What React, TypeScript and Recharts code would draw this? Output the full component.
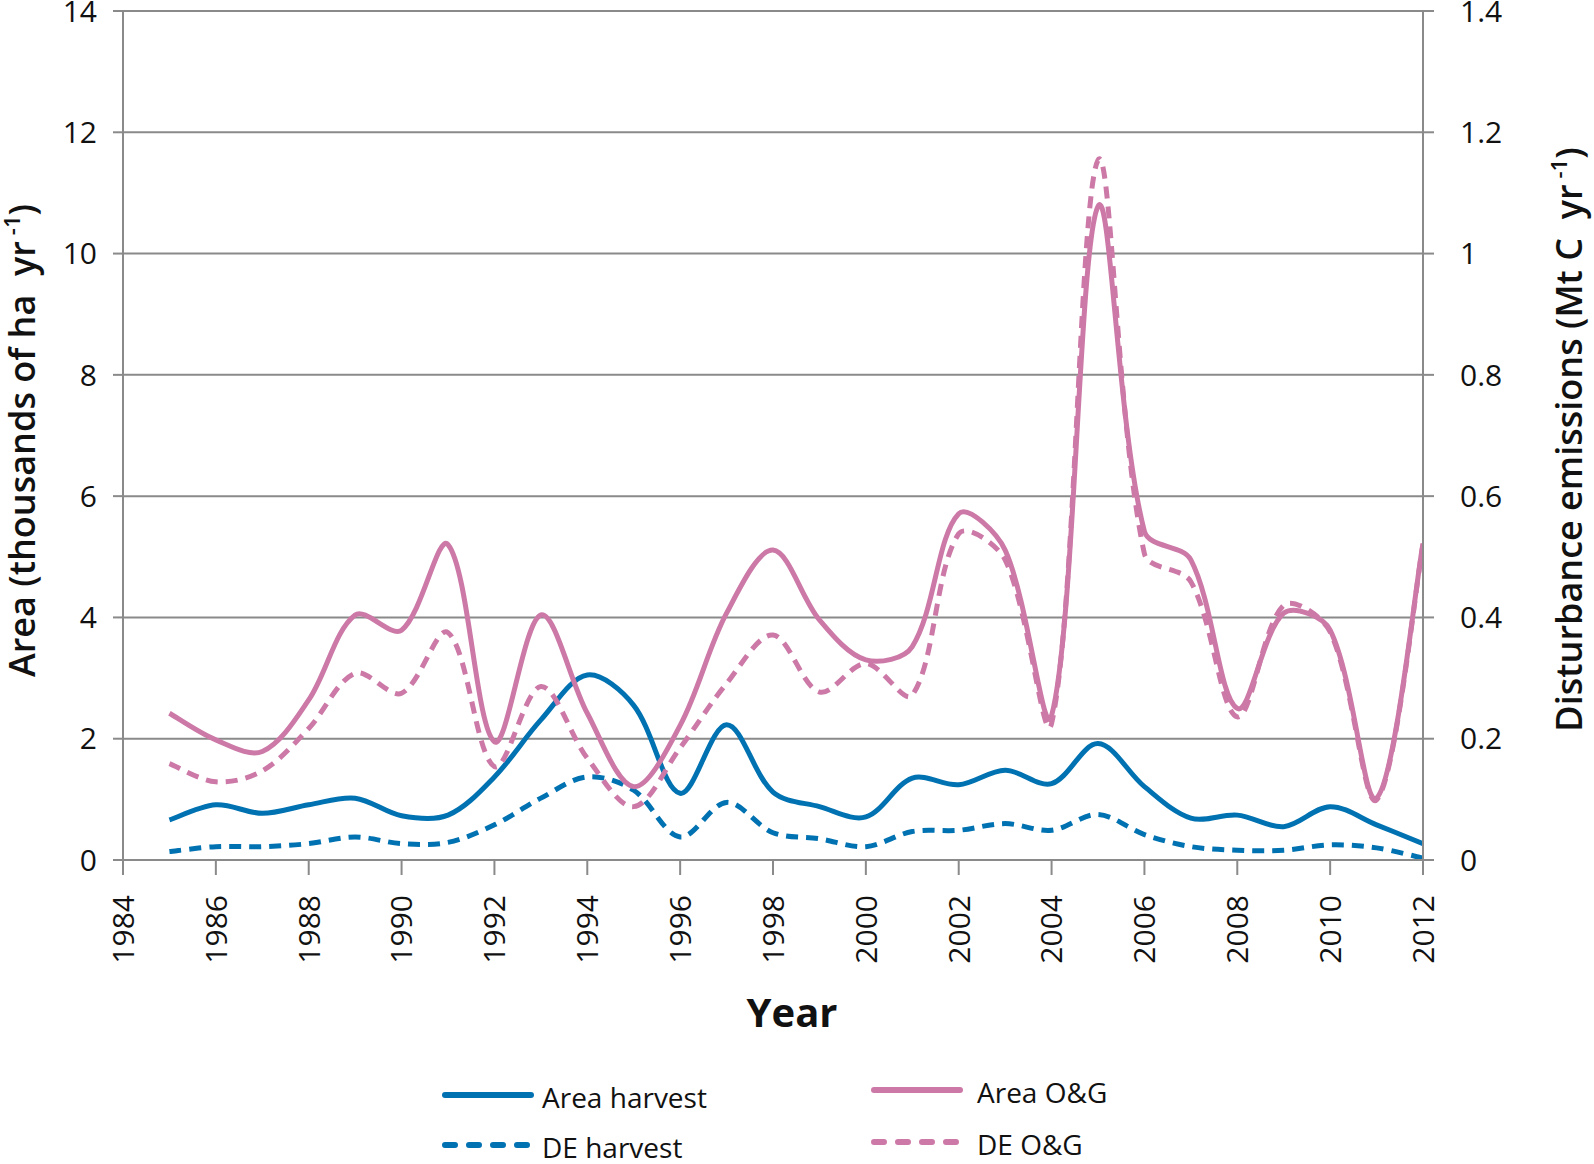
import React from "react";
import { LineChart, Line, XAxis, YAxis, CartesianGrid, Legend } from "recharts";

const years = [1985, 1986, 1987, 1988, 1989, 1990, 1991, 1992, 1993, 1994, 1995, 1996, 1997, 1998, 1999, 2000, 2001, 2002, 2003, 2004, 2005, 2006, 2007, 2008, 2009, 2010, 2011, 2012];

// thousands of ha per year (left axis)
const areaHarvest = [0.66, 0.91, 0.77, 0.91, 1.02, 0.73, 0.74, 1.37, 2.31, 3.05, 2.55, 1.1, 2.23, 1.12, 0.88, 0.71, 1.35, 1.24, 1.48, 1.26, 1.92, 1.21, 0.69, 0.74, 0.55, 0.88, 0.58, 0.27];
const areaOG = [2.42, 1.98, 1.79, 2.64, 4.04, 3.79, 5.2, 1.95, 4.04, 2.42, 1.21, 2.22, 4.07, 5.11, 3.96, 3.3, 3.52, 5.71, 5.11, 2.38, 10.78, 5.42, 4.95, 2.5, 4.07, 3.79, 1.02, 5.22];

// Mt C per year (right axis)
const deHarvest = [0.014, 0.022, 0.022, 0.027, 0.038, 0.027, 0.029, 0.058, 0.102, 0.137, 0.115, 0.038, 0.095, 0.045, 0.035, 0.022, 0.047, 0.049, 0.06, 0.049, 0.075, 0.042, 0.022, 0.016, 0.016, 0.025, 0.02, 0.003];
const deOG = [0.159, 0.129, 0.147, 0.217, 0.308, 0.275, 0.375, 0.154, 0.286, 0.168, 0.088, 0.185, 0.291, 0.371, 0.277, 0.324, 0.272, 0.538, 0.495, 0.225, 1.154, 0.505, 0.459, 0.236, 0.42, 0.376, 0.099, 0.52];

const xTicks = [1984, 1986, 1988, 1990, 1992, 1994, 1996, 1998, 2000, 2002, 2004, 2006, 2008, 2010, 2012];
const leftTicks = [0, 2, 4, 6, 8, 10, 12, 14];
const rightTicks = [0, 0.2, 0.4, 0.6, 0.8, 1, 1.2, 1.4];

const BLUE = "#0072B2";
const PINK = "#CC79A7";
const GRID = "#8a8a8a";
const FONT = "'Open Sans', 'Noto Sans', sans-serif";
const DASH = "12 8";

const data = years.map((year, i) => ({
  year,
  areaHarvest: areaHarvest[i],
  deHarvest: deHarvest[i],
  areaOG: areaOG[i],
  deOG: deOG[i],
}));

type SeriesDef = { key: string; name: string; color: string; dashed: boolean; axis: string };
const series: SeriesDef[] = [
  { key: "areaHarvest", name: "Area harvest", color: BLUE, dashed: false, axis: "left" },
  { key: "deHarvest", name: "DE harvest", color: BLUE, dashed: true, axis: "right" },
  { key: "deOG", name: "DE O&G", color: PINK, dashed: true, axis: "right" },
  { key: "areaOG", name: "Area O&G", color: PINK, dashed: false, axis: "left" },
];

// Chord-length weighted smoothing (similar to spreadsheet "smoothed line")
function smoothCurve(context: any) {
  let pts: number[][] = [];
  const dist = (a: number[], b: number[]) => Math.hypot(b[0] - a[0], b[1] - a[1]);
  return {
    areaStart() {},
    areaEnd() {},
    lineStart() {
      pts = [];
    },
    point(x: number, y: number) {
      pts.push([+x, +y]);
    },
    lineEnd() {
      if (!pts.length) return;
      context.moveTo(pts[0][0], pts[0][1]);
      for (let i = 0; i < pts.length - 1; i++) {
        const p0 = pts[i - 1] || pts[i];
        const p1 = pts[i];
        const p2 = pts[i + 1];
        const p3 = pts[i + 2] || p2;
        const l01 = dist(p0, p1);
        const l12 = dist(p1, p2);
        const l23 = dist(p2, p3);
        const f1 = l01 + l12 > 0 ? l12 / (l01 + l12) / 3 : 0;
        const f2 = l12 + l23 > 0 ? l12 / (l12 + l23) / 3 : 0;
        const s1 = i === 0 ? 1 / 6 : f1;
        const s2 = i + 2 >= pts.length ? 1 / 6 : f2;
        context.bezierCurveTo(
          p1[0] + (p2[0] - p0[0]) * s1,
          p1[1] + (p2[1] - p0[1]) * s1,
          p2[0] - (p3[0] - p1[0]) * s2,
          p2[1] - (p3[1] - p1[1]) * s2,
          p2[0],
          p2[1]
        );
      }
    },
  };
}

const XTick = (props: any) => {
  const { x, y, payload } = props;
  return (
    <text
      transform={`translate(${x},${y}) rotate(-90)`}
      textAnchor="end"
      dy="0.36em"
      fontSize={30}
      fontFamily={FONT}
      fill="#111"
    >
      {payload.value}
    </text>
  );
};

const AxisTitle = ({ cx, cy, main }: { cx: number; cy: number; main: string }) => (
  <text
    transform={`translate(${cx},${cy}) rotate(-90)`}
    textAnchor="middle"
    fontSize={36}
    fontWeight={600}
    fontFamily={FONT}
    fill="#111"
  >
    <tspan>{main}</tspan>
    <tspan fontSize={22} dx={6} dy={-15}>{"-1"}</tspan>
    <tspan dy={15}>{")"}</tspan>
  </text>
);

const LeftTitle = (props: any) => {
  const vb = props.viewBox || { x: 23, y: 11, width: 100, height: 849 };
  return <AxisTitle cx={vb.x + 12} cy={vb.y + vb.height / 2 + 5} main={"Area (thousands of ha\u00a0 yr"} />;
};

const RightTitle = (props: any) => {
  const vb = props.viewBox || { x: 1423, y: 11, width: 100, height: 849 };
  return <AxisTitle cx={vb.x + 159} cy={vb.y + vb.height / 2 + 4} main={"Disturbance emissions (Mt C\u00a0 yr"} />;
};

const XTitle = (props: any) => {
  const vb = props.viewBox || { x: 123, y: 860, width: 1300, height: 100 };
  return (
    <text
      x={vb.x + vb.width / 2 + 19}
      y={vb.y + 167}
      textAnchor="middle"
      fontSize={40}
      fontWeight={700}
      fontFamily={FONT}
      fill="#111"
    >
      Year
    </text>
  );
};

const legendPlacement: Record<string, { left: number; top: number }> = {
  areaHarvest: { left: 442, top: 1095 },
  deHarvest: { left: 442, top: 1145 },
  areaOG: { left: 871, top: 1090 },
  deOG: { left: 871, top: 1142 },
};

const LegendContent = () => (
  <div style={{ position: "relative", width: 1594, height: 104 }}>
    {series.map((s) => {
      const p = legendPlacement[s.key];
      return (
        <div
          key={s.key}
          style={{
            position: "absolute",
            left: p.left,
            top: p.top - 1060 - 20,
            height: 40,
            display: "flex",
            alignItems: "center",
            whiteSpace: "nowrap",
          }}
        >
          <svg width={92} height={40} style={{ display: "block" }}>
            <line
              x1={3}
              x2={89}
              y1={20}
              y2={20}
              stroke={s.color}
              strokeWidth={6}
              strokeLinecap="round"
              strokeDasharray={s.dashed ? "10 14" : undefined}
            />
          </svg>
          <span
            style={{
              marginLeft: s.key.includes("OG") ? 14 : 8,
              fontFamily: FONT,
              fontSize: 28,
              color: "#111",
              lineHeight: "40px",
              position: "relative",
              top: 2,
            }}
          >
            {s.name}
          </span>
        </div>
      );
    })}
  </div>
);

export default function App() {
  return (
    <div style={{ position: "absolute", left: 0, top: 0, width: 1594, height: 1164, background: "#fff" }}>
      <LineChart
        width={1594}
        height={1164}
        data={data}
        margin={{ top: 11, right: 71, bottom: 204, left: 23 }}
      >
        <CartesianGrid yAxisId="left" vertical={false} stroke={GRID} strokeWidth={2} />
        <XAxis
          dataKey="year"
          type="number"
          domain={[1984, 2012]}
          ticks={xTicks}
          interval={0}
          height={100}
          tickSize={15}
          tickMargin={20}
          tick={<XTick />}
          axisLine={{ stroke: GRID, strokeWidth: 2 }}
          tickLine={{ stroke: GRID, strokeWidth: 2 }}
          allowDataOverflow
          label={<XTitle />}
        />
        <YAxis
          yAxisId="left"
          orientation="left"
          domain={[0, 14]}
          ticks={leftTicks}
          interval={0}
          width={100}
          tickSize={10}
          tickMargin={16}
          tick={{ fontSize: 30, fontFamily: FONT, fill: "#111" }}
          axisLine={{ stroke: GRID, strokeWidth: 2 }}
          tickLine={{ stroke: GRID, strokeWidth: 2 }}
          label={<LeftTitle />}
        />
        <YAxis
          yAxisId="right"
          orientation="right"
          domain={[0, 1.4]}
          ticks={rightTicks}
          interval={0}
          width={100}
          tickSize={11}
          tickMargin={26}
          tickFormatter={(v: number) => String(v)}
          tick={{ fontSize: 30, fontFamily: FONT, fill: "#111", textAnchor: "start" }}
          axisLine={{ stroke: GRID, strokeWidth: 2 }}
          tickLine={{ stroke: GRID, strokeWidth: 2 }}
          label={<RightTitle />}
        />
        {series.map((s) => (
          <Line
            key={s.key}
            yAxisId={s.axis}
            dataKey={s.key}
            name={s.name}
            type={smoothCurve as any}
            stroke={s.color}
            strokeWidth={5}
            strokeDasharray={s.dashed ? DASH : undefined}
            dot={false}
            activeDot={false}
            isAnimationActive={false}
          />
        ))}
        <Legend
          layout="horizontal"
          verticalAlign="middle"
          align="center"
          wrapperStyle={{ left: 0, top: 1060, width: 1594, height: 104 }}
          content={<LegendContent />}
        />
      </LineChart>
    </div>
  );
}
